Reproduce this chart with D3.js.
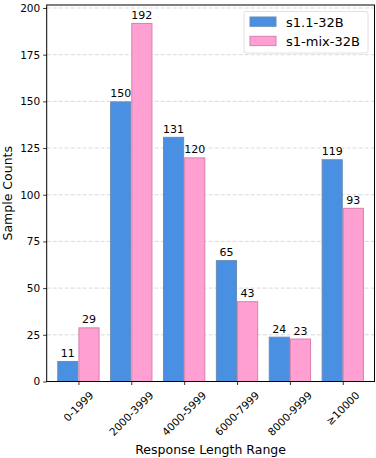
<!DOCTYPE html>
<html>
<head>
<meta charset="utf-8">
<script src="https://cdn.jsdelivr.net/npm/d3@7"></script>
<style>
body{margin:0;background:#fff;}
text{font-family:"DejaVu Sans",sans-serif;fill:#000;}
</style>
</head>
<body>
<svg id="chart" width="376" height="458"></svg>
<script>
var categories=["0-1999","2000-3999","4000-5999","6000-7999","8000-9999","\u226510000"];
var seriesNames=["s1.1-32B","s1-mix-32B"];
var s11=[11,150,131,65,24,119];
var smix=[29,192,120,43,23,93];
var yTicks=[0,25,50,75,100,125,150,175,200];

var colors=["#4a90e2","#ff9fd2"];
var edges=["#6a8cb4","#d97fb0"];

var pad={left:46.7,right:374.5,top:5,bottom:381.5};
var svg=d3.select("#chart");

var x=d3.scaleLinear().domain([-0.6,5.6]).range([pad.left,pad.right]);
var y=d3.scaleLinear().domain([0,201.6]).range([pad.bottom,pad.top]);
var bw=x(0.4)-x(0);

// grid
svg.append("g").selectAll("line")
  .data(yTicks)
  .enter().append("line")
  .attr("x1",pad.left).attr("x2",pad.right)
  .attr("y1",d=>y(d)).attr("y2",d=>y(d))
  .attr("stroke","#d0d0d0").attr("stroke-width",0.8)
  .attr("stroke-dasharray","4,2");

// bars
var series=[s11,smix];
series.forEach(function(vals,si){
  var off=si==0?-0.4:0;
  var g=svg.append("g");
  g.selectAll("rect")
    .data(vals)
    .enter().append("rect")
    .attr("x",(d,i)=>x(i+off)+0.5)
    .attr("y",d=>y(d)+0.5)
    .attr("width",bw-1)
    .attr("height",d=>pad.bottom-y(d)-0.5)
    .attr("fill",colors[si])
    .attr("stroke",edges[si])
    .attr("stroke-width",1);
  g.selectAll("text")
    .data(vals)
    .enter().append("text")
    .attr("x",(d,i)=>x(i+off+0.2))
    .attr("y",d=>y(d)-4)
    .attr("text-anchor","middle")
    .attr("font-size",11)
    .text(d=>d);
});

// axes
var yAxis=d3.axisLeft(y).tickValues(yTicks).tickSize(3.5).tickPadding(3);
var ga=svg.append("g").attr("transform","translate("+pad.left+",0)").call(yAxis);
ga.select(".domain").remove();
ga.selectAll("text").attr("font-size",10.5).attr("font-family","DejaVu Sans");
ga.selectAll("line").attr("stroke","#000").attr("stroke-width",0.8);

var xAxis=d3.axisBottom(x).tickValues(d3.range(categories.length)).tickSize(3.5).tickFormat("");
var gx=svg.append("g").attr("transform","translate(0,"+pad.bottom+")").call(xAxis);
gx.select(".domain").remove();
gx.selectAll("line").attr("stroke","#000").attr("stroke-width",0.8);

// rotated category labels
categories.forEach(function(c,i){
  var t=svg.append("text")
    .attr("font-size",10.5)
    .attr("text-anchor","middle")
    .attr("dy","0.35em")
    .text(c);
  var w=t.node().getComputedTextLength(),h=8;
  var cy=pad.bottom+9+(w+h)*Math.SQRT1_2/2;
  t.attr("transform","translate("+x(i)+","+cy+") rotate(-45)");
});

// frame
svg.append("rect")
  .attr("x",pad.left).attr("y",pad.top)
  .attr("width",pad.right-pad.left).attr("height",pad.bottom-pad.top)
  .attr("fill","none").attr("stroke","#000").attr("stroke-width",1);

// axis labels
svg.append("text")
  .attr("x",(pad.left+pad.right)/2).attr("y",454)
  .attr("text-anchor","middle").attr("font-size",12.5)
  .text("Response Length Range");
svg.append("text")
  .attr("transform","translate(12,"+((pad.top+pad.bottom)/2)+") rotate(-90)")
  .attr("text-anchor","middle").attr("font-size",12.5)
  .text("Sample Counts");

// legend
var lg=svg.append("g");
lg.append("rect")
  .attr("x",244).attr("y",11.5).attr("width",124).attr("height",41.5)
  .attr("rx",2).attr("fill","#fff").attr("fill-opacity",0.8)
  .attr("stroke","#d8d8d8").attr("stroke-width",0.8);
seriesNames.forEach(function(n,i){
  var yy=17+i*19.3;
  lg.append("rect")
    .attr("x",250).attr("y",yy).attr("width",26).attr("height",9.3)
    .attr("fill",colors[i]).attr("stroke",edges[i]).attr("stroke-width",1);
  lg.append("text")
    .attr("x",286).attr("y",yy+9.5)
    .attr("font-size",13)
    .text(n);
});
</script>
</body>
</html>
